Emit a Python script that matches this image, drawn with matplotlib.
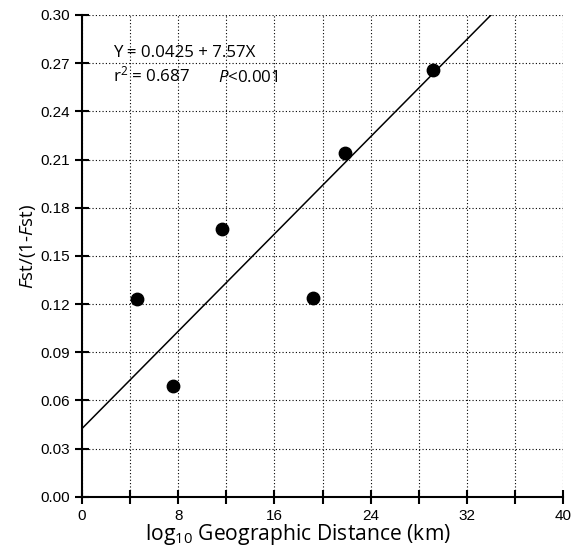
import matplotlib
matplotlib.use('Agg')
import matplotlib.pyplot as plt
import numpy as np

# data
dist = [4.6, 7.6, 11.6, 19.2, 21.9, 29.2]
fst = [0.123, 0.069, 0.167, 0.124, 0.214, 0.266]
intercept = 0.0425
slope = 7.57 / 1000   # x axis is scaled by 1000

x_major = [0, 8, 16, 24, 32, 40]
x_minor = [4, 12, 20, 28, 36]
y_ticks = [0.00, 0.03, 0.06, 0.09, 0.12, 0.15, 0.18, 0.21, 0.24, 0.27, 0.30]

plt.rcParams['mathtext.fontset'] = 'custom'
plt.rcParams['mathtext.rm'] = 'Open Sans'
plt.rcParams['mathtext.it'] = 'Open Sans:italic'

fig = plt.figure(figsize=(5.78, 5.55), dpi=100)
ax = fig.add_axes([0.142, 0.105, 0.832, 0.868])

# regression line, stops where it hits the top of the plot
x_end = (0.30 - intercept) / slope
xs = np.array([0, x_end])
ax.plot(xs, intercept + slope * xs, color='black', lw=1.1, zorder=3)
ax.scatter(dist, fst, s=80, color='black', zorder=4)

ax.set_xlim(0, 40)
ax.set_ylim(0, 0.30)
ax.set_xticks(x_major)
ax.set_xticks(x_minor, minor=True)
ax.set_yticks(y_ticks)
ax.set_yticklabels(['%.2f' % v for v in y_ticks])

ax.grid(True, which='both', color='black', linestyle=(0, (1, 2)), lw=0.8)
ax.set_axisbelow(True)

for s in ['top', 'right']:
    ax.spines[s].set_visible(False)
for s in ['left', 'bottom']:
    ax.spines[s].set_linewidth(1.5)

ax.tick_params(which='both', direction='inout', length=10, width=1.5,
               labelsize=11, pad=4)
for lab in ax.get_xticklabels() + ax.get_yticklabels():
    lab.set_fontfamily('Liberation Sans')

ax.set_xlabel(r'log$_{10}$ Geographic Distance (km)', fontfamily='Open Sans',
              fontsize=15.2, labelpad=0)
ax.xaxis.set_label_coords(0.448, -0.052)
ax.set_ylabel(r'$\mathit{F}$st/(1-$\mathit{F}$st)', fontfamily='Open Sans',
              fontsize=13.5, labelpad=6)
ax.yaxis.set_label_coords(-0.092, 0.52)

ax.text(2.6, 0.2738, 'Y = 0.0425 + 7.57X', fontfamily='Open Sans', fontsize=12.2,
        va='baseline')
ax.text(2.6, 0.2585, r'r$^2$ = 0.687', fontfamily='Open Sans', fontsize=12.2,
        va='baseline')
ax.text(11.3, 0.2585, r'$\mathit{P}$<0.001', fontfamily='Open Sans', fontsize=12.2,
        va='baseline')

fig.savefig('out.png', dpi=100)
